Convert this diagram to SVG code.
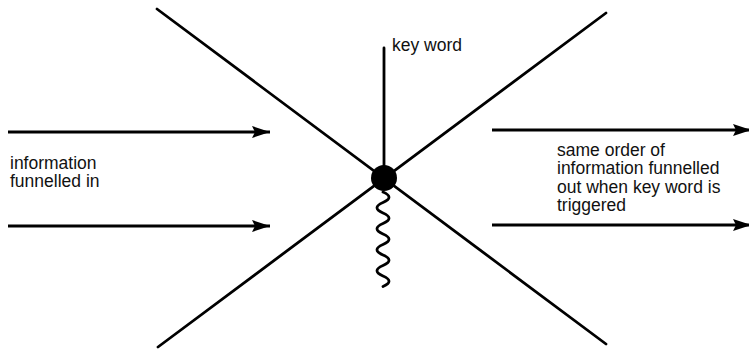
<svg xmlns="http://www.w3.org/2000/svg" width="749" height="350" viewBox="0 0 749 350">
<style>
.ln{stroke:#000;stroke-width:2.8;fill:none;stroke-linecap:round}
.ar{stroke:#000;stroke-width:2.8;fill:none}
.t{font-family:"Liberation Sans",Arial,sans-serif;font-size:17.5px;fill:#111}
</style>
<defs>
<marker id="ah" markerUnits="userSpaceOnUse" markerWidth="20" markerHeight="12" refX="18" refY="6" orient="auto">
<path d="M0,0 L18,6 L0,12 L3,6 Z" fill="#000"/>
</marker>
</defs>
<g id="connectors">
<line class="ln" x1="157" y1="9" x2="606" y2="344"/>
<line class="ln" x1="606" y1="13" x2="158" y2="347"/>
<line class="ln" x1="384" y1="48" x2="384" y2="178"/>
<path class="ln" d="M383,192 Q395,197.25 383,202.5 T383,213 T383,223.5 T383,234 T383,244.5 T383,255 T383,265.5 T383,276 T383,286.5"/>
<line class="ar" x1="8" y1="132" x2="270" y2="132" marker-end="url(#ah)"/>
<line class="ar" x1="8" y1="226" x2="270" y2="226" marker-end="url(#ah)"/>
<line class="ar" x1="492" y1="130" x2="751" y2="130" marker-end="url(#ah)"/>
<line class="ar" x1="492" y1="225" x2="751" y2="225" marker-end="url(#ah)"/>
</g>
<g id="node-center">
<circle cx="384" cy="178" r="13" fill="#000"/>
</g>
<g id="label-keyword">
<text class="t" x="392" y="51">key word</text>
</g>
<g id="label-in">
<text class="t" x="10" y="168.5">information</text>
<text class="t" x="10" y="187">funnelled in</text>
</g>
<g id="label-out">
<text class="t" x="557" y="155.5">same order of</text>
<text class="t" x="557" y="174">information funnelled</text>
<text class="t" x="557" y="192.5">out when key word is</text>
<text class="t" x="557" y="211">triggered</text>
</g>
</svg>
